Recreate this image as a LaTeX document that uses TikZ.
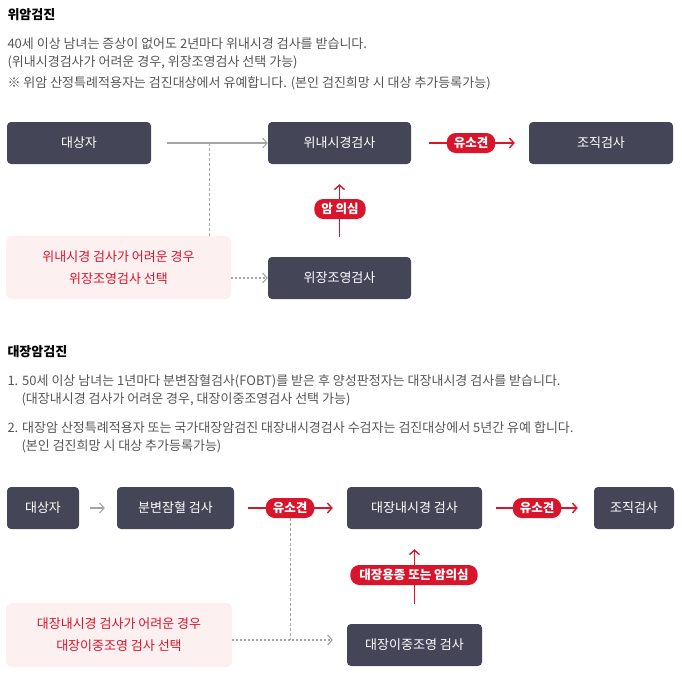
\documentclass[tikz,border=0pt]{standalone}
\usepackage{fontspec}
\setmainfont{Noto Sans CJK KR}
\usetikzlibrary{arrows.meta}
\definecolor{boxgray}{HTML}{444657}
\definecolor{redline}{HTML}{D8152B}
\definecolor{pinkbg}{HTML}{FDF0F0}
\definecolor{linegray}{HTML}{A4A4A8}
\definecolor{txtgray}{HTML}{555555}
\tikzset{
  stepbox/.style={fill=boxgray, rounded corners=4pt, text=white, font=\fontsize{13}{15}\selectfont, inner sep=0pt},
  notebox/.style={fill=pinkbg, rounded corners=6pt, text=redline, align=center, font=\fontsize{13}{22}\selectfont, inner sep=0pt},
  pill/.style={fill=redline, rounded corners=9pt, text=white, font=\fontsize{12.5}{14}\selectfont\bfseries, minimum height=20pt, inner xsep=7pt, inner ysep=0pt},
  redarrow/.style={redline, line width=1.4pt, -{Straight Barb[length=4.5pt,width=10pt]}},
  grayarrow/.style={linegray, line width=1.1pt, -{Straight Barb[length=4.5pt,width=10pt]}},
  heading/.style={anchor=west, font=\fontsize{13}{15}\selectfont\bfseries, text=black},
  body/.style={anchor=west, text=txtgray, font=\fontsize{13}{15}\selectfont}
}
\begin{document}
\begin{tikzpicture}[x=1pt,y=-1pt]
\useasboundingbox (0,0) rectangle (682,672);
% gastric cancer
\node[heading] (t1) at (4,15) {위암검진};
\node[body] (l1) at (4,44) {40세 이상 남녀는 증상이 없어도 2년마다 위내시경 검사를 받습니다.};
\node[body] (l2) at (4,62) {(위내시경검사가 어려운 경우, 위장조영검사 선택 가능)};
\node[body] (l3) at (4,83) {※ 위암 산정특례적용자는 검진대상에서 유예합니다. (본인 검진희망 시 대상 추가등록가능)};
\node[stepbox, minimum width=144pt, minimum height=42pt] (a1) at (79,143) {대상자};
\node[stepbox, minimum width=143pt, minimum height=42pt] (a2) at (339.5,143) {위내시경검사};
\node[stepbox, minimum width=144pt, minimum height=42pt] (a3) at (601,143) {조직검사};
\node[stepbox, minimum width=143pt, minimum height=42pt] (a4) at (339.5,278) {위장조영검사};
\node[notebox, minimum width=225pt, minimum height=63pt] (n1) at (118.5,267.5) {위내시경 검사가 어려운 경우\\위장조영검사 선택};
\coordinate (s1) at (167,143);
\coordinate (j1) at (209,143);
\draw[grayarrow] (s1) -- (a2.west);
\draw[linegray, line width=0.9pt, dash pattern=on 3pt off 2pt] (j1) -- (j1 |- n1.north);
\draw[grayarrow, dash pattern=on 2pt off 2pt] (n1.east |- a4) -- (a4.west);
\draw[redarrow] ([xshift=18pt]a2.east) -- ([xshift=-14pt]a3.west);
\node[pill] (p1) at (471,143) {유소견};
\draw[redarrow] ([yshift=20pt]a4.north) -- ([yshift=-20pt]a2.south);
\node[pill] (p2) at (340,209) {암 의심};
% colorectal cancer
\node[heading] (t2) at (4,352) {대장암검진};
\node[body] (m1) at (4,381) {1. 50세 이상 남녀는 1년마다 분변잠혈검사(FOBT)를 받은 후 양성판정자는 대장내시경 검사를 받습니다.};
\node[body] (m2) at (18,399) {(대장내시경 검사가 어려운 경우, 대장이중조영검사 선택 가능)};
\node[body] (m3) at (4,428) {2. 대장암 산정특례적용자 또는 국가대장암검진 대장내시경검사 수검자는 검진대상에서 5년간 유예 합니다.};
\node[body] (m4) at (18,446) {(본인 검진희망 시 대상 추가등록가능)};
\node[stepbox, minimum width=72pt, minimum height=42pt] (b1) at (43,508) {대상자};
\node[stepbox, minimum width=117pt, minimum height=42pt] (b2) at (175.5,508) {분변잠혈 검사};
\node[stepbox, minimum width=135pt, minimum height=42pt] (b3) at (414.5,508) {대장내시경 검사};
\node[stepbox, minimum width=80pt, minimum height=42pt] (b4) at (634,508) {조직검사};
\node[stepbox, minimum width=135pt, minimum height=42pt] (b5) at (414.5,645) {대장이중조영 검사};
\node[notebox, minimum width=226pt, minimum height=64pt] (n2) at (119,635) {대장내시경 검사가 어려운 경우\\대장이중조영 검사 선택};
\draw[grayarrow] ([xshift=11pt]b1.east) -- ([xshift=-12pt]b2.west);
\coordinate (j2) at (290,508);
\draw[linegray, line width=0.9pt, dash pattern=on 3pt off 2pt] (j2) -- (290,640);
\draw[grayarrow, dash pattern=on 2pt off 2pt] (n2.east |- 0,640) -- ([xshift=-14pt]b3.west |- 0,640);
\draw[redarrow] ([xshift=14pt]b2.east) -- ([xshift=-14pt]b3.west);
\node[pill] (p3) at (290,508) {유소견};
\draw[redarrow] ([xshift=14pt]b3.east) -- ([xshift=-16pt]b4.west);
\node[pill] (p4) at (537,508) {유소견};
\draw[redarrow] ([yshift=20pt]b5.north) -- ([yshift=-20pt]b3.south);
\node[pill, inner xsep=9pt] (p5) at (414,575) {대장용종 또는 암의심};
\end{tikzpicture}
\end{document}
